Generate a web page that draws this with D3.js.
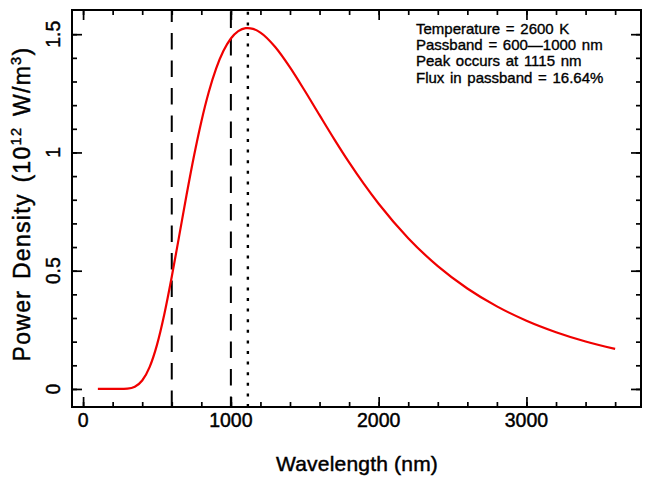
<!DOCTYPE html>
<html>
<head>
<meta charset="utf-8">
<script src="https://cdn.jsdelivr.net/npm/d3@7"></script>
<style>
    body { margin: 0; background: #fff; }
    text { font-family: "Liberation Sans", Arial, sans-serif; fill: #000; stroke: #000; stroke-width: 0.45; }
</style>
</head>
<body>
<svg id="svg-main"></svg>
<script>
// curve: wavelength (nm) vs power density (10^12 W/m^3)
const wavelengths = [100, 150, 200, 250, 300, 350, 400, 450, 500, 550, 600, 650, 700, 750, 800, 850, 900, 950,
    1000, 1050, 1100, 1115, 1150, 1200, 1300, 1400, 1500, 1600, 1700, 1800, 1900, 2000, 2200, 2400,
    2600, 2800, 3000, 3200, 3400, 3600];
const powerDensity = [0, 0, 0, 0.0001, 0.0015, 0.0097, 0.0358, 0.0924, 0.1865, 0.317, 0.4744, 0.6463, 0.8198,
    0.9838, 1.1302, 1.2545, 1.3543, 1.4296, 1.4817, 1.5127, 1.5255, 1.526, 1.5225, 1.5067, 1.4458,
    1.3598, 1.2609, 1.1577, 1.0555, 0.9579, 0.8668, 0.7829, 0.6374, 0.5194, 0.4248, 0.3491, 0.2886,
    0.2401, 0.2009, 0.1692];

const passbandLines = [600, 1000];
const peakLine = 1115;

const xMajorTicks = [0, 1000, 2000, 3000];
const xMinorTicks = d3.range(0, 3601, 200);
const yMajorTicks = [0, 0.5, 1, 1.5];
const yMinorTicks = d3.range(0, 16).map(function (i) { return i / 10; });

const infoLines = [
    "Temperature = 2600 K",
    "Passband = 600\u20141000 nm",
    "Peak occurs at 1115 nm",
    "Flux in passband = 16.64%"
];

var Dims = {
    Width: 646,
    Height: 481,
    Margin: { Top: 10, Bottom: 74, Left: 72, Right: 5 },
    MajorTick: 10,
    MinorTick: 5
};

var plotW = Dims.Width - Dims.Margin.Left - Dims.Margin.Right;
var plotH = Dims.Height - Dims.Margin.Top - Dims.Margin.Bottom;

var x = d3.scaleLinear().domain([-75, 3775]).range([0, plotW]);
var y = d3.scaleLinear().domain([-0.0763, 1.6023]).range([plotH, 0]);

var svg = d3.select("#svg-main")
    .attr("width", Dims.Width)
    .attr("height", Dims.Height);

var g = svg.append("g")
    .attr("transform", `translate(${Dims.Margin.Left},${Dims.Margin.Top})`);

drawTicks();
drawMarkers();
drawCurve();
drawFrame();
drawLabels();

function drawTicks() {
    var tg = g.append("g");

    // ticks on all four sides, pointing inward
    var bottom = d3.axisTop(x).tickValues(xMinorTicks).tickSize(Dims.MinorTick).tickFormat("");
    var bottomMaj = d3.axisTop(x).tickValues(xMajorTicks).tickSize(Dims.MajorTick).tickFormat("");
    var top = d3.axisBottom(x).tickValues(xMinorTicks).tickSize(Dims.MinorTick).tickFormat("");
    var topMaj = d3.axisBottom(x).tickValues(xMajorTicks).tickSize(Dims.MajorTick).tickFormat("");

    var left = d3.axisRight(y).tickValues(yMinorTicks).tickSize(Dims.MinorTick).tickFormat("");
    var leftMaj = d3.axisRight(y).tickValues(yMajorTicks).tickSize(Dims.MajorTick).tickFormat("");
    var right = d3.axisLeft(y).tickValues(yMinorTicks).tickSize(Dims.MinorTick).tickFormat("");
    var rightMaj = d3.axisLeft(y).tickValues(yMajorTicks).tickSize(Dims.MajorTick).tickFormat("");

    [
        [bottom, 0, plotH], [bottomMaj, 0, plotH], [top, 0, 0], [topMaj, 0, 0],
        [left, 0, 0], [leftMaj, 0, 0], [right, plotW, 0], [rightMaj, plotW, 0]
    ].forEach(function (a) {
        var ax = tg.append("g").attr("transform", `translate(${a[1]},${a[2]})`).call(a[0]);
        ax.select(".domain").remove();
        ax.selectAll("line").attr("stroke", "#000").attr("stroke-width", 1.7);
    });

    // tick labels
    var lg = g.append("g").style("font-size", "19.5px");
    lg.selectAll(".xlab")
        .data(xMajorTicks)
        .enter()
        .append("text")
        .attr("class", "xlab")
        .attr("x", function (d) { return x(d); })
        .attr("y", plotH + 20)
        .attr("text-anchor", "middle")
        .text(function (d) { return d; });

    lg.selectAll(".ylab")
        .data(yMajorTicks)
        .enter()
        .append("text")
        .attr("class", "ylab")
        .attr("transform", function (d) { return `translate(-12,${y(d)}) rotate(-90)`; })
        .attr("text-anchor", "middle")
        .text(function (d) { return d; });
}

function drawMarkers() {
    var dashOffsets = [0, 6];
    g.selectAll(".passband")
        .data(passbandLines)
        .enter()
        .append("line")
        .attr("class", "passband")
        .attr("x1", function (d) { return x(d); })
        .attr("x2", function (d) { return x(d); })
        .attr("y1", plotH)
        .attr("y2", 0)
        .attr("stroke", "#000")
        .attr("stroke-width", 2)
        .attr("stroke-dasharray", "16.5,11")
        .attr("stroke-dashoffset", function (d, i) { return dashOffsets[i]; });

    g.append("line")
        .attr("x1", x(peakLine))
        .attr("x2", x(peakLine))
        .attr("y1", plotH)
        .attr("y2", 0)
        .attr("stroke", "#000")
        .attr("stroke-width", 2.4)
        .attr("stroke-dasharray", "3,7.6");
}

function drawCurve() {
    var line = d3.line()
        .x(function (d, i) { return x(wavelengths[i]); })
        .y(function (d) { return y(d); })
        .curve(d3.curveMonotoneX);

    g.append("path")
        .datum(powerDensity)
        .attr("d", line)
        .attr("fill", "none")
        .attr("stroke", "#f00000")
        .attr("stroke-width", 2.2);
}

function drawFrame() {
    g.append("rect")
        .attr("x", 0)
        .attr("y", 0)
        .attr("width", plotW)
        .attr("height", plotH)
        .attr("fill", "none")
        .attr("stroke", "#000")
        .attr("stroke-width", 2);
}

function drawLabels() {
    svg.append("text")
        .attr("x", 357)
        .attr("y", 471)
        .attr("text-anchor", "middle")
        .style("font-size", "21px")
        .style("letter-spacing", "0.2px")
        .text("Wavelength (nm)");

    var yl = svg.append("text")
        .attr("transform", "translate(30,204) rotate(-90)")
        .attr("text-anchor", "middle")
        .style("font-size", "23px")
        .style("letter-spacing", "1.3px")
        .style("word-spacing", "3px");
    yl.append("tspan").text("Power Density (10");
    yl.append("tspan").attr("dy", -9).style("font-size", "14.5px").text("12");
    yl.append("tspan").attr("dy", 9).text(" W/m");
    yl.append("tspan").attr("dy", -9).style("font-size", "14.5px").text("3");
    yl.append("tspan").attr("dy", 9).text(")");

    svg.append("g")
        .selectAll("text")
        .data(infoLines)
        .enter()
        .append("text")
        .attr("x", 416)
        .attr("y", function (d, i) { return 34 + i * 16.2; })
        .style("font-size", "15px")
        .style("word-spacing", "1.5px")
        .style("stroke-width", 0.35)
        .text(function (d) { return d; });
}
</script>
</body>
</html>
